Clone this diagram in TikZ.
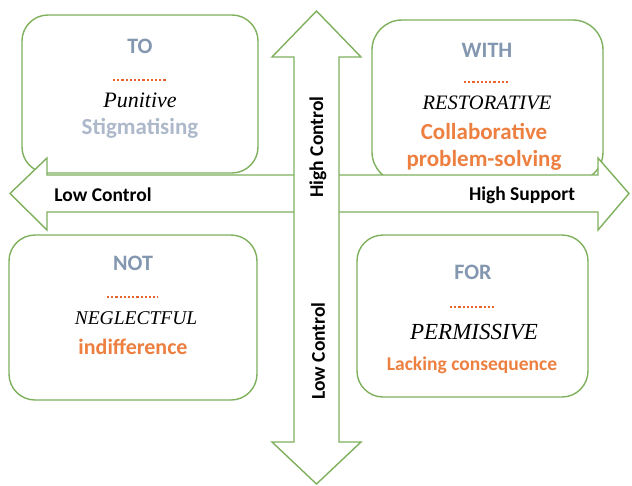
\documentclass[tikz,border=0pt]{standalone}
\usepackage{fontspec}
\setmainfont{Liberation Serif}
\newfontfamily\calib{Carlito}
\definecolor{grn}{HTML}{7FB05E}
\definecolor{slate}{HTML}{8497B0}
\definecolor{paleslate}{HTML}{ADB9CA}
\definecolor{orng}{HTML}{ED8040}
\definecolor{dotc}{HTML}{E8642E}
\begin{document}
\begin{tikzpicture}[x=1pt,y=-1pt,
  quad/.style={draw=grn, line width=1.4pt, rounded corners=26pt, fill=white, inner sep=0pt},
  bigarrow/.style={draw=grn, line width=1.4pt, fill=white, line join=miter},
  ttl/.style={font=\calib\bfseries\fontsize{22}{24}\selectfont, text=slate, inner sep=0pt},
  kind/.style={font=\itshape\fontsize{#1}{#1}\selectfont, text=black, inner sep=0pt},
  orng/.style={font=\calib\bfseries\fontsize{#1}{#1}\selectfont, text=orng, inner sep=0pt},
  axis/.style={font=\calib\bfseries\fontsize{19.5}{22}\selectfont, text=black, inner sep=0pt},
  dotline/.style={draw=dotc, line width=1.6pt, dash pattern=on 2.2pt off 2pt}]
\path[use as bounding box] (0,0) rectangle (632,485);

% quadrant boxes
\node[quad, minimum width=236pt, minimum height=158pt] (to) at (140,94) {};
\node[quad, minimum width=231pt, minimum height=162pt, rounded corners=30pt] (with) at (487.5,101) {};
\node[quad, minimum width=248pt, minimum height=165pt] (not) at (133,317.5) {};
\node[quad, minimum width=231pt, minimum height=162pt] (for) at (472.5,316) {};

% horizontal double arrow
\coordinate (lt) at (10,193.5);
\coordinate (rt) at (629,193.5);
\draw[bigarrow] (lt) -- (47,158) -- (47,175) -- (598,175) -- (598,158) -- (rt)
  -- (598,230) -- (598,212) -- (47,212) -- (47,230) -- cycle;

% vertical double arrow
\coordinate (tt) at (316.5,11);
\coordinate (bt) at (316.5,484);
\draw[bigarrow] (tt) -- (361,57) -- (339,57) -- (339,442) -- (361,442) -- (bt)
  -- (272,442) -- (294,442) -- (294,57) -- (272,57) -- cycle;

% axis labels
\node[axis] (lowc) at (103,195) {Low Control};
\node[axis] (highs) at (522,195) {High Support};
\node[axis, rotate=90] (highc) at (318,147) {High Control};
\node[axis, rotate=90] (lowcv) at (318,351) {Low Control};

% TO
\node[ttl] (toT) at (140,46) {TO};
\coordinate (toD1) at (113,80); \coordinate (toD2) at (166,80);
\draw[dotline] (toD1) -- (toD2);
\node[kind=22] (toK) at (140,100) {Punitive};
\node[font=\calib\bfseries\fontsize{23}{24}\selectfont, text=paleslate, inner sep=0pt] (toS) at (140,128) {Stigmatising};

% WITH
\node[ttl] (wiT) at (487,50) {WITH};
\coordinate (wiD1) at (464,82); \coordinate (wiD2) at (510,82);
\draw[dotline] (wiD1) -- (wiD2);
\node[kind=20.5] (wiK) at (487,103) {RESTORATIVE};
\node[orng=23] (wiS1) at (484,131) {Collaborative};
\node[orng=23] (wiS2) at (484,160) {problem-solving};

% NOT
\node[ttl] (noT) at (133,263) {NOT};
\coordinate (noD1) at (107,297); \coordinate (noD2) at (158,297);
\draw[dotline] (noD1) -- (noD2);
\node[kind=19.5] (noK) at (136,318) {NEGLECTFUL};
\node[orng=22] (noS) at (133,347) {indifference};

% FOR
\node[ttl] (foT) at (473,272) {FOR};
\coordinate (foD1) at (450,307); \coordinate (foD2) at (495,307);
\draw[dotline] (foD1) -- (foD2);
\node[kind=23] (foK) at (474,332) {PERMISSIVE};
\node[orng=19.5] (foS) at (472,365) {Lacking consequence};
\end{tikzpicture}
\end{document}
